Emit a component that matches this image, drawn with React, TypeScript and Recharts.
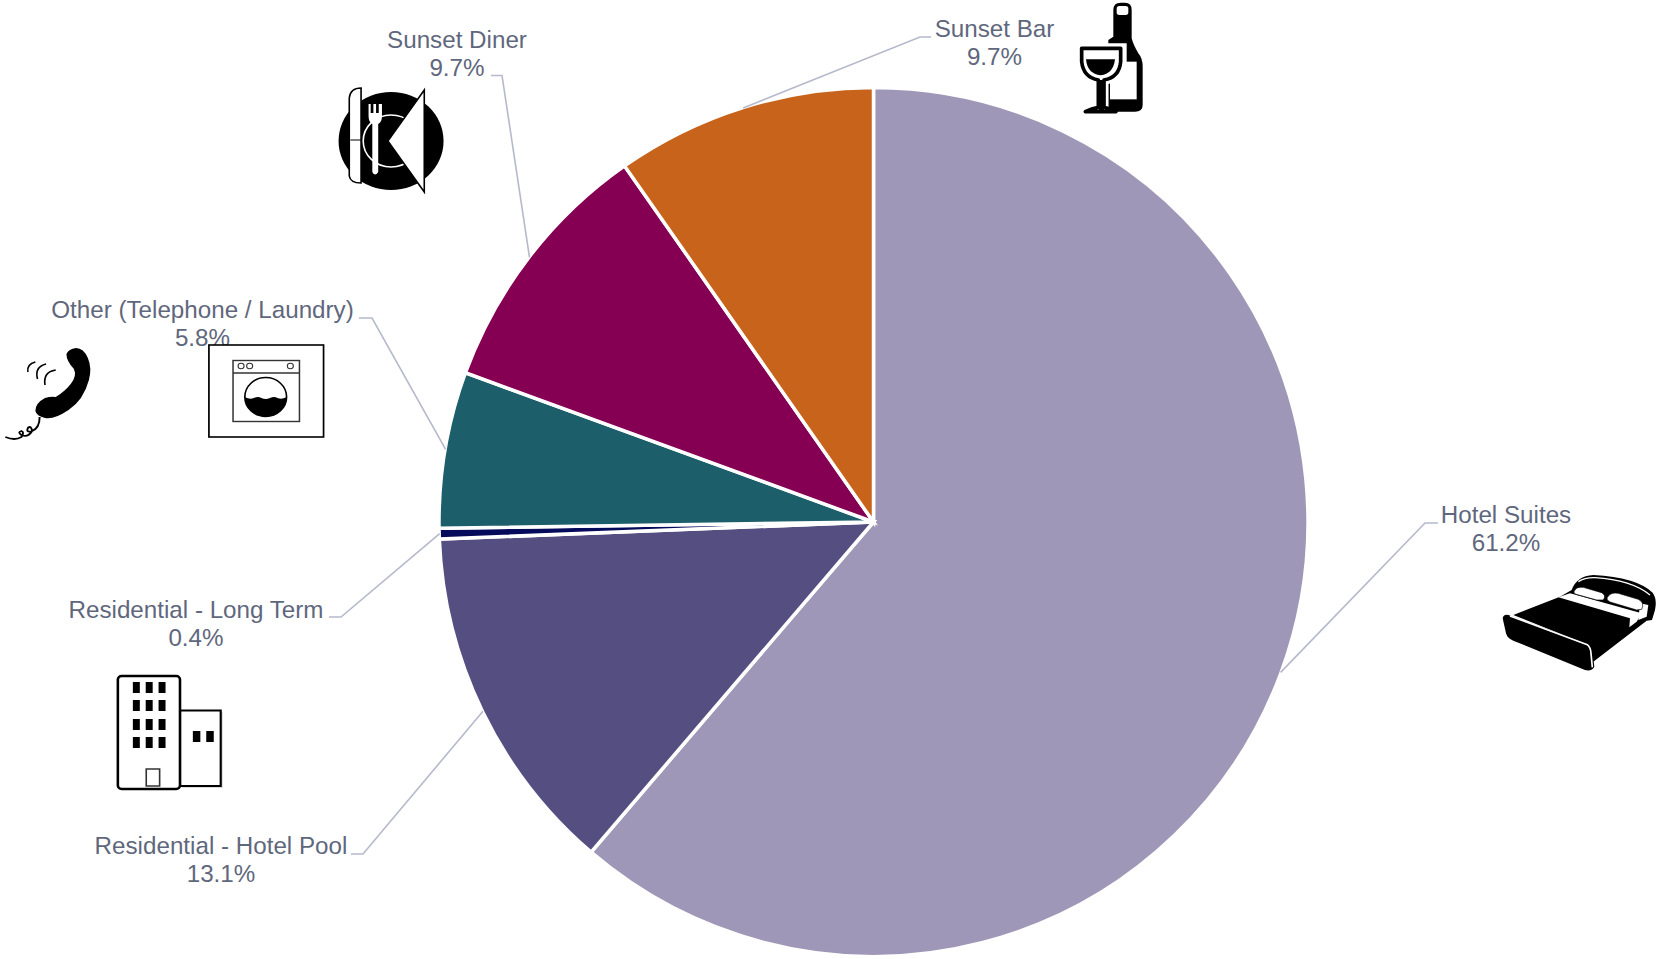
import React from "react";
import { PieChart, Pie, Cell } from "recharts";

const categories = [
  "Hotel Suites",
  "Residential - Hotel Pool",
  "Residential - Long Term",
  "Other (Telephone / Laundry)",
  "Sunset Diner",
  "Sunset Bar",
];
const shares = [61.2, 13.1, 0.4, 5.8, 9.7, 9.7];
const sliceColors = ["#9F97B7", "#554E80", "#060A5A", "#1C5F6B", "#850052", "#C7631A"];

const rows = categories.map((name, i) => ({ name, value: shares[i] }));

// Text placement and leader elbows for each callout, in chart pixels.
const callouts: Record<string, { x: number; y: number; lineY: number; elbowX: number; endX: number }> = {
  "Hotel Suites": { x: 1506, y: 523, lineY: 523, elbowX: 1425, endX: 1438 },
  "Residential - Hotel Pool": { x: 221, y: 854, lineY: 854, elbowX: 363, endX: 351 },
  "Residential - Long Term": { x: 196, y: 618, lineY: 617, elbowX: 341, endX: 329 },
  "Other (Telephone / Laundry)": { x: 202.5, y: 318, lineY: 318, elbowX: 372, endX: 359 },
  "Sunset Diner": { x: 457, y: 48, lineY: 75.5, elbowX: 502, endX: 491 },
  "Sunset Bar": { x: 994.5, y: 37, lineY: 37, elbowX: 920, endX: 931 },
};

const TEXT_COLOR = "#5F677D";
const LEADER_COLOR = "#B5B9CB";
const FONT = "'Liberation Sans', Arial, sans-serif";
const FONT_SIZE = 24.2;
const LEFT_ICON_STRETCH = 1.0714;

function renderCallout(props: any) {
  const { cx, cy, midAngle, name, value } = props;
  const c = callouts[name];
  const rad = (-midAngle * Math.PI) / 180;
  const edge = 434;
  const sx = cx + edge * Math.cos(rad);
  const sy = cy + edge * Math.sin(rad);
  return (
    <g key={name}>
      <polyline
        points={`${sx},${sy} ${c.elbowX},${c.lineY} ${c.endX},${c.lineY}`}
        fill="none"
        stroke={LEADER_COLOR}
        strokeWidth={1.6}
      />
      <text x={c.x} y={c.y} textAnchor="middle" fontFamily={FONT} fontSize={FONT_SIZE} fill={TEXT_COLOR}>
        {name}
      </text>
      <text x={c.x} y={c.y + 27.5} textAnchor="middle" fontFamily={FONT} fontSize={FONT_SIZE} fill={TEXT_COLOR}>
        {Number(value).toFixed(1)}%
      </text>
    </g>
  );
}

const towerColumns = [124, 136, 148];
const towerRows = [682, 700, 719, 737];

function Pictograms() {
  return (
    <svg
      width={1665}
      height={959}
      style={{ position: "absolute", left: 0, top: 0, pointerEvents: "none" }}
    >
      {/* wine bottle and glass */}
      <g transform="translate(900,0) scale(0.33333)">
        <path
          d="M640 30 Q640 8 662 8 L675 8 Q695 8 695 30 L695 115 Q700 135 715 160 Q728 175 728 200 L728 315 Q728 335 705 335 L625 335 L625 120 L640 110 Z"
          fill="#000"
        />
        <rect x={650} y={18} width={35} height={27} rx={8} fill="#fff" />
        <rect x={630} y={185} width={80} height={113} fill="#fff" />
        <path
          d="M528 130 L680 130 L680 185 Q675 240 625 252 L625 345 L545 345 L590 250 Q530 235 528 185 Z"
          fill="#fff"
        />
        <path
          d="M545 145 L662 145 L662 185 Q658 232 612 240 L612 322 Q630 325 648 335 L556 335 Q575 325 595 322 L595 240 Q550 232 545 185 Z"
          fill="#fff"
          stroke="#000"
          strokeWidth={11}
          strokeLinejoin="round"
        />
        <rect x={596} y={240} width={16} height={90} fill="#000" />
        <path d="M558 178 L645 178 Q640 222 602 226 Q562 222 558 178 Z" fill="#000" />
      </g>

      <g transform={`scale(${LEFT_ICON_STRETCH},1)`}>
        {/* plate, knife and fork */}
        <circle cx={365} cy={141} r={49} fill="#000" />
        <circle cx={365} cy={141} r={26} fill="none" stroke="#fff" strokeWidth={1.5} />
        <path
          d="M337 88 Q327 88 326 98 L326 176 Q327 183 337 183 Z"
          fill="#fff"
          stroke="#000"
          strokeWidth={1.5}
        />
        <line x1={327} y1={140} x2={337} y2={140} stroke="#000" strokeWidth={1} />
        <path
          d="M344 104 L346 104 L346 113 L348.5 113 L348.5 104 L351 104 L351 113 L353.5 113 L353.5 104 L356.5 104 L356.5 116 Q356.5 122 353 124 L353 172 Q350 177 347.5 172 L347.5 124 Q344 122 344 116 Z"
          fill="#fff"
        />
        <polygon points="396,90 396,192 362,141" fill="#fff" stroke="#000" strokeWidth={1.5} />

        {/* telephone handset */}
        <path
          d="M71 348 Q78 348 82 358 Q86 368 83 380 Q78 400 64 410 Q50 420 42 418 Q34 416 33 411 Q33 403 42 398 Q48 396 52 397 Q60 392 66 384 Q72 376 69 369 Q62 361 62 354 Q64 349 71 348 Z"
          fill="#000"
        />
        <path
          d="M37 417 Q37 428 30 431 Q24 433 26 428 Q29 425 30 431 Q26 438 20 435 Q16 432 20 431 Q23 432 20 437 Q14 441 5 437"
          fill="none"
          stroke="#000"
          strokeWidth={1.8}
        />
        <path d="M33 362 Q25 364 26 372" fill="none" stroke="#000" strokeWidth={1.5} />
        <path d="M43 364 Q32 367 35 379" fill="none" stroke="#000" strokeWidth={1.5} />
        <path d="M52 370 Q40 372 42 385" fill="none" stroke="#000" strokeWidth={1.5} />

        {/* washing machine */}
        <rect x={195} y={345} width={107} height={92} fill="#fff" stroke="#000" strokeWidth={1.6} />
        <rect x={217.5} y={360.5} width={62} height={61} fill="#fff" stroke="#333" strokeWidth={1.4} />
        <line x1={217.5} y1={373} x2={279.5} y2={373} stroke="#333" strokeWidth={1.4} />
        <circle cx={225} cy={366} r={2.8} fill="none" stroke="#333" strokeWidth={1} />
        <circle cx={233} cy={366} r={2.8} fill="none" stroke="#333" strokeWidth={1} />
        <circle cx={271} cy={366} r={2.8} fill="none" stroke="#333" strokeWidth={1} />
        <circle cx={248} cy={397} r={19.5} fill="#fff" stroke="#000" strokeWidth={1.5} />
        <path
          d="M228.5 397 Q233 400 237 398 Q241 396 244 398 Q248 400 252 398 Q256 396 259 398 Q263 400 267.5 397 A19.5 19.5 0 0 1 228.5 397 Z"
          fill="#000"
        />

        {/* apartment towers */}
        <rect x={170} y={712} width={38} height={76} fill="#999" opacity={0.35} />
        <rect x={168} y={710.5} width={38} height={75.5} fill="#fff" stroke="#000" strokeWidth={2} />
        <rect x={110} y={676} width={58} height={113} rx={3.5} fill="#fff" stroke="#000" strokeWidth={2.4} />
        {towerRows.flatMap((ty) =>
          towerColumns.map((tx) => <rect key={`${tx}-${ty}`} x={tx} y={ty} width={6.5} height={11} fill="#000" />)
        )}
        <rect x={180} y={731} width={7} height={11} fill="#000" />
        <rect x={192.5} y={731} width={7} height={11} fill="#000" />
        <rect x={136.5} y={769} width={12.5} height={17} fill="#fff" stroke="#333" strokeWidth={1.5} />
      </g>

      {/* bed */}
      <g transform="translate(1260,490) scale(0.33333)">
        <path
          d="M935 300 Q950 258 1000 255 Q1130 262 1178 308 Q1192 328 1185 360 L1176 390 L1160 392 L1000 515 L985 465 L760 375 L900 320 Z"
          fill="#000"
        />
        <path d="M955 275 Q975 262 1005 263 Q1115 270 1170 315" fill="none" stroke="#fff" strokeWidth={4} />
        <path d="M895 322 L930 310 L1145 370 L1130 395 L1108 412 L1110 385 Z" fill="#fff" />
        <path d="M1140 340 L1165 345 L1160 380 L1135 390 Z" fill="#fff" />
        <path
          d="M945 300 Q950 290 970 292 L1025 308 Q1040 316 1030 330 L1010 330 L945 312 Q938 306 945 300 Z"
          fill="#fff"
          stroke="#000"
          strokeWidth={2}
        />
        <path
          d="M1045 318 Q1055 306 1075 310 L1135 328 Q1155 338 1145 358 L1130 360 L1050 336 Q1035 328 1045 318 Z"
          fill="#fff"
          stroke="#000"
          strokeWidth={2}
        />
        <path
          d="M728 385 Q730 372 745 375 L985 462 Q998 470 998 485 L1003 530 Q995 545 975 540 L760 452 Q742 445 738 430 Z"
          fill="#000"
        />
        <path d="M750 378 L982 464 Q992 472 993 490 L997 532" fill="none" stroke="#fff" strokeWidth={5} />
      </g>
    </svg>
  );
}

export default function App() {
  return (
    <div style={{ position: "absolute", left: 0, top: 0, width: 1665, height: 959, overflow: "hidden" }}>
      <PieChart width={1665} height={959} margin={{ top: 0, right: 0, bottom: 0, left: 0 }}>
        <Pie
          data={rows}
          dataKey="value"
          nameKey="name"
          cx={873.5}
          cy={522}
          outerRadius={434.5}
          startAngle={90}
          endAngle={-270}
          stroke="#fff"
          strokeWidth={3.5}
          isAnimationActive={false}
          labelLine={false}
          label={renderCallout}
        >
          {rows.map((r, i) => (
            <Cell key={r.name} fill={sliceColors[i]} />
          ))}
        </Pie>
      </PieChart>
      <Pictograms />
    </div>
  );
}
